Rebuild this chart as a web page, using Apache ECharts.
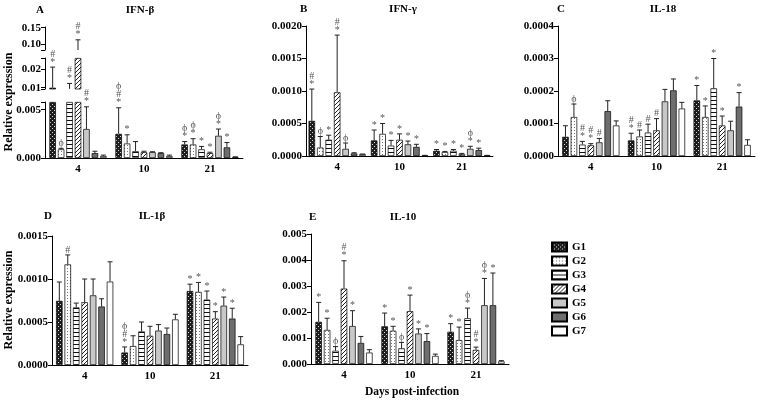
<!DOCTYPE html>
<html lang="en" style="height: 100%;width: 100%">
<head>
    <meta charset="utf-8">
</head>
<body style="height: 100%;width: 100%; margin: 0; background: #fff">
<div id="container" style="width: 760px;height: 400px;"></div>
<script type="text/javascript" src="https://cdn.jsdelivr.net/npm/echarts@6/dist/echarts.min.js"></script>
<script type="text/javascript">
    // x categories and groups
    var days = ['4', '10', '21'];
    var groups = ['G1', 'G2', 'G3', 'G4', 'G5', 'G6', 'G7'];

    // each row = one group, values for day 4, 10, 21
    var ifnbMean = [[0.0100, 0.0025, 0.0014], [0.0009, 0.0015, 0.0014], [0.0094, 0.0007, 0.0009], [0.05, 0.0006, 0.0005], [0.0030, 0.0006, 0.0023], [0.0005, 0.0005, 0.0011], [0.0002, 0.0002, 0.0001]];
    var ifnbErr = [[0.0211, 0.0052, 0.0017], [0.0010, 0.0024, 0.0020], [0.0123, 0.0017, 0.0012], [0.113, 0.0007, 0.0006], [0.0053, 0.00065, 0.0030], [0.0007, 0.00055, 0.0016], [0.0003, 0.0003, 0.00012]];
    var ifnbSig = [['*#', '*#ϕ', '*ϕ'], ['ϕ', '*', '*ϕ'], ['*#', '', '*'], ['*#', '', '*'], ['*#', '', '*ϕ'], ['', '', '*'], ['', '', '']];

    var ifngMean = [[0.00054, 0.00024, 0.00008], [0.00013, 0.00034, 0.00006], [0.00025, 0.00016, 0.00008], [0.00098, 0.00025, 0.00003], [0.00011, 0.00018, 0.00011], [0.00004, 0.00014, 0.00009], [0.00003, 0.00001, 0.00001]];
    var ifngErr = [[0.00103, 0.00040, 0.00010], [0.00030, 0.00050, 0.00007], [0.00032, 0.00024, 0.00010], [0.00186, 0.00034, 0.00004], [0.00020, 0.00023, 0.00015], [0.00005, 0.00018, 0.00012], [0.00003, 0.00001, 0.00001]];
    var ifngSig = [['*#', '*', '*'], ['ϕ', '*', '*'], ['*', '*', '*'], ['*#', '*', '*'], ['ϕ', '*', '*ϕ'], ['', '*', '*'], ['', '', '']];

    var il18Mean = [[0.000059, 0.000048, 0.000171], [0.00012, 0.00006, 0.00012], [0.000035, 0.000072, 0.000208], [0.000033, 0.000079, 0.000094], [0.000042, 0.000168, 0.000079], [0.000138, 0.000202, 0.000152], [0.000094, 0.000146, 0.000034]];
    var il18Err = [[0.000093, 0.00007, 0.000217], [0.00016, 0.00008, 0.000154], [0.000045, 0.000098, 0.0003], [0.000038, 0.000115, 0.000123], [0.000054, 0.000205, 0.000107], [0.00017, 0.000237, 0.000195], [0.000108, 0.000165, 0.00005]];
    var il18Sig = [['', '*#', '*'], ['ϕ', '#', '*'], ['*#', '#', '*'], ['*#', '#', '*'], ['#', '', ''], ['', '', '*'], ['', '', '']];

    var il1bMean = [[0.000746, 0.000145, 0.00086], [0.00117, 0.00022, 0.00085], [0.00067, 0.00039, 0.00076], [0.00073, 0.00034, 0.00054], [0.00081, 0.0004, 0.00069], [0.00068, 0.00036, 0.00054], [0.00097, 0.00053, 0.00024]];
    var il1bErr = [[0.000965, 0.00021, 0.00094], [0.00128, 0.00034, 0.00096], [0.00072, 0.0005, 0.00086], [0.001, 0.00045, 0.00062], [0.001, 0.00047, 0.00079], [0.00077, 0.00043, 0.00066], [0.0012, 0.00059, 0.00033]];
    var il1bSig = [['', '*#ϕ', '*'], ['#', '', '*'], ['', '', '*'], ['', '', '*'], ['', '', '*'], ['', '', '*'], ['', '', '']];

    var il10Mean = [[0.00162, 0.00145, 0.00124], [0.00131, 0.00128, 0.00092], [0.00051, 0.0006, 0.00176], [0.0029, 0.00203, 0.00054], [0.00146, 0.00117, 0.00226], [0.00081, 0.00088, 0.00226], [0.00044, 0.00031, 0.0001]];
    var il10Err = [[0.00237, 0.00196, 0.00155], [0.00176, 0.00145, 0.00142], [0.00067, 0.00083, 0.00215], [0.00397, 0.00265, 0.00065], [0.00205, 0.00135, 0.00329], [0.00106, 0.00117, 0.0035], [0.00055, 0.00038, 0.00013]];
    var il10Sig = [['*', '*', '*'], ['*', '*', '*'], ['ϕ', 'ϕ', '*ϕ'], ['*#', '*', '*#'], ['*', '*', '*ϕ'], ['', '*', '*'], ['', '', '']];

    var serif = '"Liberation Serif", "DejaVu Serif", serif';

    // fill patterns
    function pattern(kind) {
        var c = document.createElement('canvas');
        var ctx = c.getContext('2d');
        c.width = 4; c.height = 4;
        if (kind === 'check') {
            ctx.fillStyle = '#1e1e1e'; ctx.fillRect(0, 0, 4, 4);
            ctx.fillStyle = '#d8d8d8';
            ctx.fillRect(0, 0, 1, 1); ctx.fillRect(2, 2, 1, 1);
        } else if (kind === 'dots') {
            c.width = 3; c.height = 3;
            ctx.fillStyle = '#fff'; ctx.fillRect(0, 0, 3, 3);
            ctx.fillStyle = '#777'; ctx.fillRect(1, 1, 1, 1);
        } else if (kind === 'hlines') {
            ctx.fillStyle = '#fff'; ctx.fillRect(0, 0, 4, 4);
            ctx.fillStyle = '#111'; ctx.fillRect(0, 0, 4, 1);
        } else {
            ctx.fillStyle = '#fff'; ctx.fillRect(0, 0, 4, 4);
            ctx.fillStyle = '#222';
            ctx.fillRect(3, 0, 1, 1); ctx.fillRect(2, 1, 1, 1); ctx.fillRect(1, 2, 1, 1); ctx.fillRect(0, 3, 1, 1);
        }
        return {image: c, repeat: 'repeat'};
    }
    var fills = [pattern('check'), pattern('dots'), pattern('hlines'), pattern('diag'), '#c8c8c8', '#6e6e6e', '#ffffff'];

    var panels = [
        {mean: ifnbMean, err: ifnbErr, sig: ifnbSig, grid: {left: 45, right: 517, top: 102, bottom: 242}, min: 0, max: 0.0058, ticks: [0, 0.005, 0.0058], labels: [0, 0.005], dec: 3, showX: true},
        {mean: ifnbMean, err: ifnbErr, sig: ifnbSig, grid: {left: 45, right: 517, top: 58, height: 31}, min: 0.0093, max: 0.026, ticks: [0.0093, 0.01, 0.02, 0.026], labels: [0.01, 0.02], dec: 2, showX: false},
        {mean: ifnbMean, err: ifnbErr, sig: ifnbSig, grid: {left: 45, right: 517, top: 27, height: 23}, min: 0.082, max: 0.152, ticks: [0.082, 0.1, 0.15], labels: [0.1, 0.15], dec: 2, showX: false},
        {mean: ifngMean, err: ifngErr, sig: ifngSig, grid: {left: 306, right: 267, top: 26, bottom: 244}, min: 0, max: 0.002, interval: 0.0005, dec: 4, showX: true},
        {mean: il18Mean, err: il18Err, sig: il18Sig, grid: {left: 558, right: 5, top: 26, bottom: 244}, min: 0, max: 0.0004, interval: 0.0001, dec: 4, showX: true},
        {mean: il1bMean, err: il1bErr, sig: il1bSig, grid: {left: 52, right: 512, top: 236, bottom: 35}, min: 0, max: 0.0015, interval: 0.0005, dec: 4, showX: true},
        {mean: il10Mean, err: il10Err, sig: il10Sig, grid: {left: 311, right: 251, top: 234, bottom: 36}, min: 0, max: 0.005, interval: 0.001, dec: 3, showX: true}
    ];

    var barW = 6.5, gapRatio = 0.3;

    var grids = [], xAxes = [], yAxes = [], series = [];
    panels.forEach(function (p, i) {
        grids.push(p.grid);
        xAxes.push({
            type: 'category', gridIndex: i, data: days, show: p.showX,
            axisLine: {lineStyle: {color: '#000', width: 1}},
            axisTick: {alignWithLabel: true, length: 3, lineStyle: {color: '#000'}},
            axisLabel: {fontFamily: serif, fontWeight: 'bold', fontSize: 11, color: '#000', margin: 6}
        });
        var ya = {
            type: 'value', gridIndex: i, min: p.min, max: p.max,
            splitLine: {show: false},
            axisLine: {show: true, lineStyle: {color: '#000', width: 1}},
            axisTick: {show: true, length: 4, lineStyle: {color: '#000'}},
            axisLabel: {
                fontFamily: serif, fontWeight: 'bold', fontSize: 11, color: '#000', margin: 4,
                formatter: function (v) { return v.toFixed(p.dec); }
            }
        };
        if (p.interval) {
            ya.interval = p.interval;
        } else {
            ya.axisTick.customValues = p.ticks;
            ya.axisLabel.customValues = p.labels;
        }
        yAxes.push(ya);

        groups.forEach(function (name, g) {
            series.push({
                type: 'bar', name: name, xAxisIndex: i, yAxisIndex: i,
                barWidth: barW, barGap: (gapRatio * 100) + '%', clip: true,
                itemStyle: {color: fills[g], borderColor: '#000', borderWidth: 0.7},
                data: p.mean[g].map(function (v) { return v > p.min ? Math.min(v, p.max) : '-'; })
            });
        });

        // error bars + significance marks
        var errData = [];
        for (var g = 0; g < groups.length; g++) {
            for (var d = 0; d < days.length; d++) {
                errData.push([d, g, p.mean[g][d], p.err[g][d]]);
            }
        }
        series.push({
            type: 'custom', xAxisIndex: i, yAxisIndex: i, z: 5, silent: true,
            data: errData,
            encode: {x: 0, y: 3},
            renderItem: function (params, api) {
                var d = api.value(0), g = api.value(1), m = api.value(2), e = api.value(3);
                var x = api.coord([d, p.min])[0] + (g - 3) * barW * (1 + gapRatio);
                var kids = [];
                if (e > p.min && m < p.max) {
                    var y0 = api.coord([d, Math.max(m, p.min)])[1];
                    var y1 = api.coord([d, Math.min(e, p.max)])[1];
                    kids.push({type: 'line', shape: {x1: x, y1: y0, x2: x, y2: y1}, style: {stroke: '#222', lineWidth: 1}});
                    if (e <= p.max) {
                        kids.push({type: 'line', shape: {x1: x - 2.5, y1: y1, x2: x + 2.5, y2: y1}, style: {stroke: '#222', lineWidth: 1}});
                        var s = p.sig[g][d];
                        if (s) {
                            kids.push({
                                type: 'text',
                                style: {
                                    text: s.split('').reverse().join('\n'), x: x, y: y1 - 1,
                                    align: 'center', verticalAlign: 'bottom',
                                    fill: '#555', fontFamily: serif, fontSize: 10, lineHeight: 8
                                }
                            });
                        }
                    }
                }
                return {type: 'group', children: kids};
            }
        });
    });

    function label(text, x, y, size, align) {
        return {type: 'text', x: x, y: y, style: {text: text, fontFamily: serif, fontWeight: 'bold', fontSize: size, fill: '#000', align: align || 'left', verticalAlign: 'middle'}};
    }

    var option = {
        animation: false,
        backgroundColor: '#fff',
        grid: grids,
        xAxis: xAxes,
        yAxis: yAxes,
        series: series,
        legend: {
            orient: 'vertical', left: 546, top: 236,
            itemWidth: 15, itemHeight: 9, itemGap: 2, icon: 'rect',
            data: groups,
            textStyle: {fontFamily: serif, fontWeight: 'bold', fontSize: 11, color: '#000', lineHeight: 12}
        },
        graphic: [
            label('A', 36, 10, 11), label('IFN-β', 140, 10, 11, 'center'),
            label('B', 300, 9, 11), label('IFN-γ', 403, 9, 11, 'center'),
            label('C', 557, 9, 11), label('IL-18', 663, 9, 11, 'center'),
            label('D', 44, 216, 11), label('IL-1β', 152, 216, 11, 'center'),
            label('E', 309, 217, 11), label('IL-10', 403, 217, 11, 'center'),
            label('Days post-infection', 412, 392, 11.5, 'center'),
            {type: 'text', x: 9, y: 102, rotation: Math.PI / 2, style: {text: 'Relative expression', fontFamily: serif, fontWeight: 'bold', fontSize: 12, fill: '#000', align: 'center', verticalAlign: 'middle'}},
            {type: 'text', x: 9, y: 300, rotation: Math.PI / 2, style: {text: 'Relative expression', fontFamily: serif, fontWeight: 'bold', fontSize: 12, fill: '#000', align: 'center', verticalAlign: 'middle'}}
        ]
    };

    var myChart = echarts.init(document.getElementById('container'), null, {renderer: 'canvas'});
    myChart.setOption(option);
</script>
</body>
</html>
